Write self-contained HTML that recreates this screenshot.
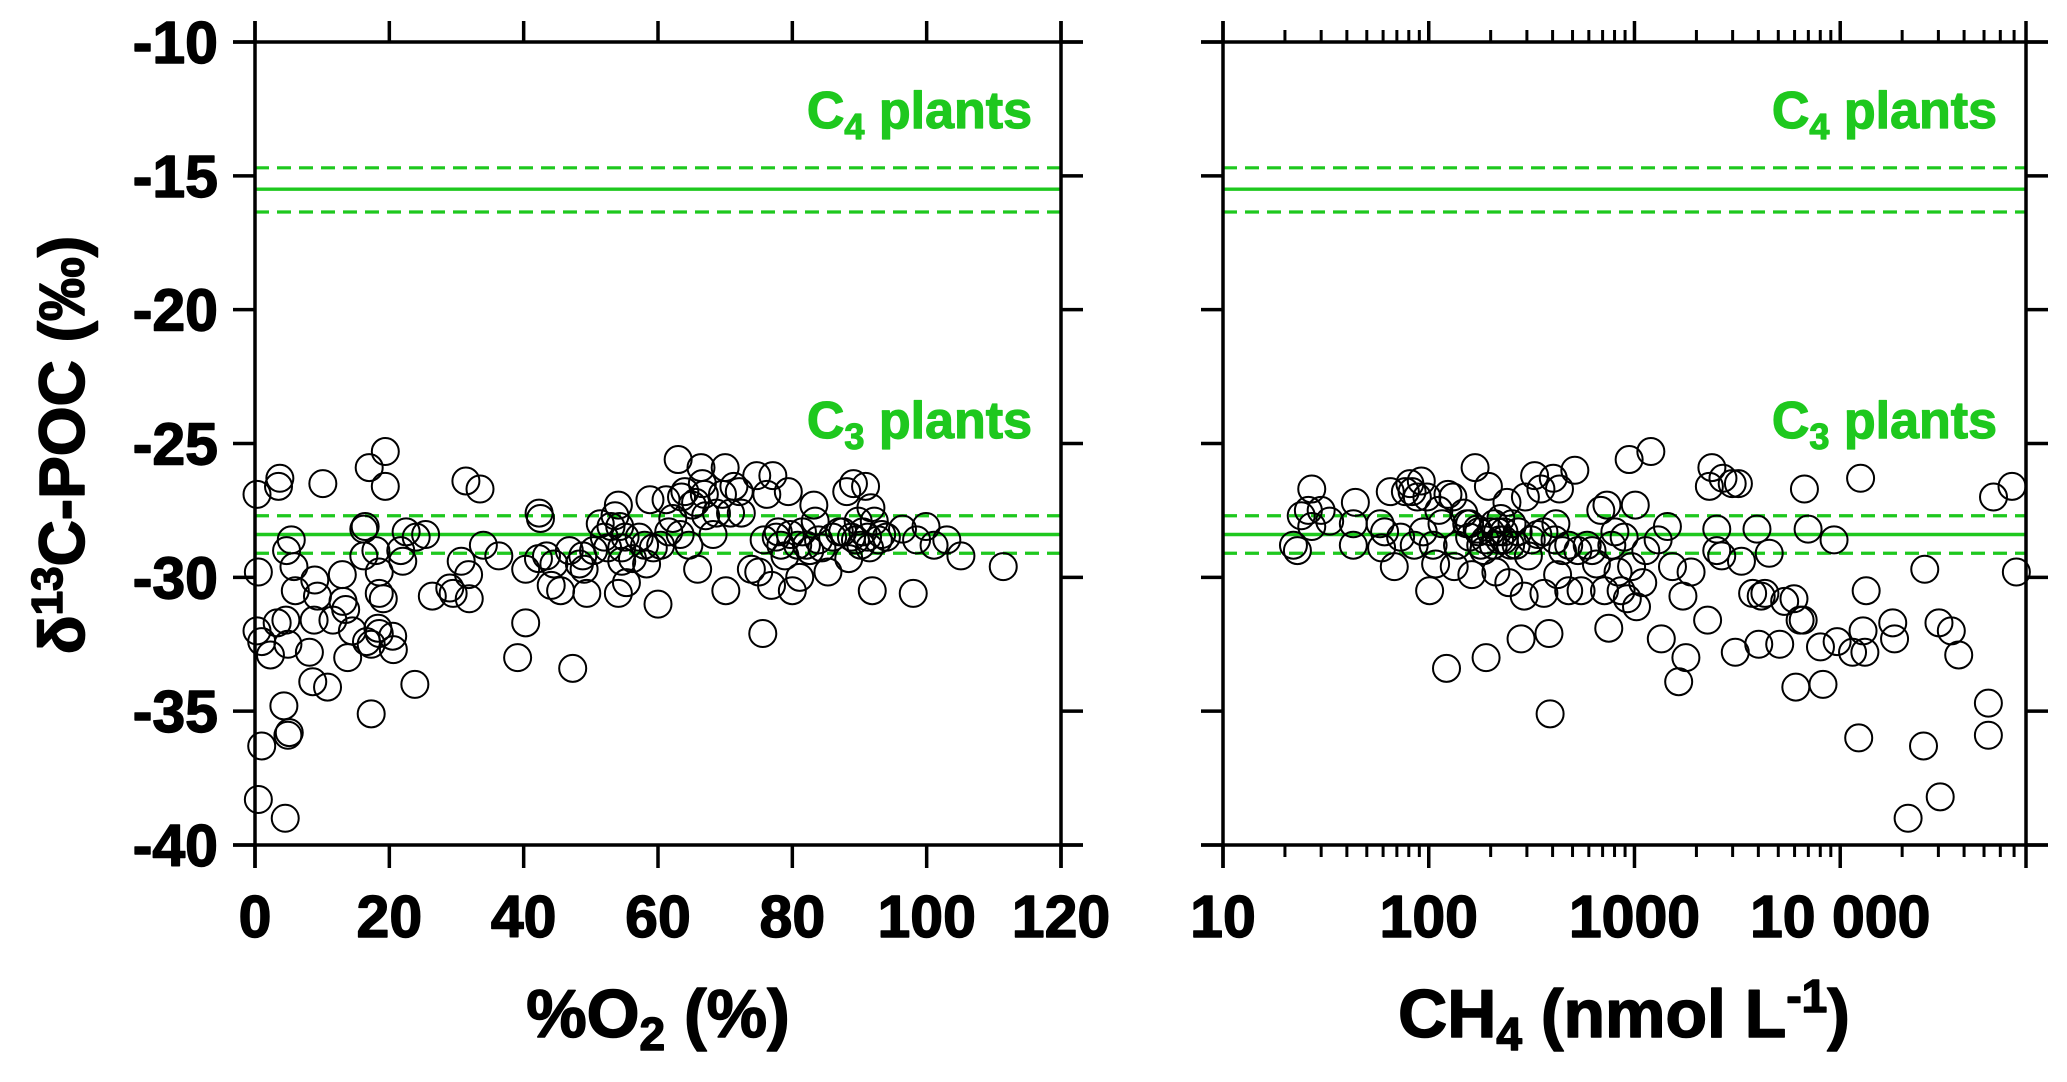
<!DOCTYPE html>
<html><head><meta charset="utf-8"><style>
html,body{margin:0;padding:0;background:#fff;}
svg{display:block;font-family:"Liberation Sans",Arial,sans-serif;font-weight:bold;}
text{stroke-linejoin:round;}
</style></head><body>
<svg id="chart" width="2067" height="1082" viewBox="0 0 2067 1082" xmlns="http://www.w3.org/2000/svg">
<g id="g"></g>
<text transform="translate(84,445) rotate(-90)" text-anchor="middle" font-size="64" stroke="#000" stroke-width="1.5">δ<tspan font-size="44" dy="-22">13</tspan><tspan dy="22">C-POC (‰)</tspan></text>
<text x="658" y="1037" text-anchor="middle" font-size="68" stroke="#000" stroke-width="1.5">%O<tspan font-size="46" dy="13">2</tspan><tspan dy="-13"> (%)</tspan></text>
<text x="1624" y="1037" text-anchor="middle" font-size="68" stroke="#000" stroke-width="1.5">CH<tspan font-size="46" dy="13">4</tspan><tspan dy="-13"> (nmol L</tspan><tspan font-size="46" dy="-25">-1</tspan><tspan dy="25">)</tspan></text>
</svg>
<script>
const o2X=[0.3,0.5,0.3,1,1,0.5,2.3,3.3,3.7,3.5,4.6,4.9,4.3,4.9,5.1,4.5,4.7,5.4,5.8,6,8.1,8.9,9.3,8.8,8.6,10.1,10.8,11.6,13,13.1,13.5,13.8,14.5,16.2,16.4,16.2,17,16.6,17.3,17.3,18,18.5,18.5,18.3,18.5,19.4,19.4,19.1,20.5,20.6,21.7,22,22.5,24,25.4,23.8,26.4,29,29.5,30.7,31.4,31.8,31.9,33.5,34,36.3,39.1,40.3,40.3,42.3,42.5,42.2,43.4,44.5,44.1,45.5,47.3,46.8,48.3,48.8,49,49.4,50.4,51.4,52,52.5,53,53.6,54.1,54.3,54.6,54.6,54.1,55.1,55.3,56.2,57.2,58,58.3,58.8,59.3,60,60.4,61.2,61.6,62.2,63,63.3,63.5,64,64.6,65.1,65.6,65.9,66.4,66.6,66.9,67.1,68.2,68.7,69.6,70,70.1,70.8,71.3,72.4,72.1,73.9,74.7,75,75.6,75.8,76.2,76.9,77.1,77.6,77.9,78.3,78.9,79.4,79.7,80,80.8,81.1,81.5,82.1,82.6,83.2,83.4,83.9,84.4,85.3,86,87,87.5,88.1,88.4,88.8,89.1,89.4,89.8,90.2,90.5,90.9,91.2,91.5,91.7,91.9,92.2,92.8,93.3,94,96.4,98,98.5,99.9,101.1,103,105.1,111.4];
const o2Y=[-26.9,-29.8,-32.0,-32.4,-36.3,-38.3,-32.9,-31.7,-26.3,-26.6,-31.6,-32.5,-34.8,-35.9,-35.8,-39.0,-29.0,-28.6,-29.6,-30.5,-32.8,-30.1,-30.7,-31.6,-33.9,-26.5,-34.1,-31.6,-29.9,-30.9,-31.2,-33.0,-32.0,-28.2,-28.1,-29.2,-25.9,-32.4,-32.5,-35.1,-29.0,-29.8,-30.6,-31.9,-32.1,-25.3,-26.6,-30.8,-32.2,-32.7,-29.0,-29.4,-28.3,-28.5,-28.4,-34.0,-30.7,-30.4,-30.6,-29.4,-26.4,-29.9,-30.8,-26.7,-28.8,-29.2,-33.0,-31.7,-29.7,-27.6,-27.8,-29.3,-29.2,-29.5,-30.3,-30.5,-33.4,-29.0,-29.5,-29.2,-29.7,-30.6,-29.0,-28.0,-28.5,-28.9,-28.1,-27.7,-27.3,-28.1,-28.9,-29.4,-30.6,-28.5,-30.2,-29.3,-28.5,-28.8,-29.5,-27.1,-28.9,-31.0,-28.8,-27.1,-28.3,-27.8,-25.6,-28.4,-27.0,-26.8,-28.8,-27.3,-27.2,-29.7,-25.9,-26.5,-26.9,-27.7,-28.4,-27.6,-26.9,-25.9,-30.5,-27.6,-26.6,-27.6,-26.8,-29.7,-26.2,-29.8,-32.1,-28.6,-26.9,-30.3,-26.2,-28.5,-28.3,-28.8,-29.2,-26.8,-28.4,-30.5,-28.8,-30.0,-28.3,-28.8,-29.0,-27.3,-27.9,-28.6,-28.9,-29.8,-28.5,-28.3,-28.3,-26.8,-29.3,-28.5,-26.5,-28.6,-27.9,-28.8,-28.3,-26.6,-28.5,-28.9,-27.4,-30.5,-27.9,-28.6,-28.4,-28.5,-28.2,-30.6,-28.6,-28.1,-28.8,-28.6,-29.2,-29.6];
const ch4X=[22,23,24,27,27,26,30,33,43,43,44,58,59,61,65,68,73,77,81,83,85,88,92,98,94,101,105,108,112,116,124,122,131,133,138,148,153,158,162,168,172,179,185,190,195,200,206,212,216,224,232,240,245,254,266,281,291,295,305,327,339,351,363,384,389,403,411,423,432,447,479,513,531,550,589,622,653,686,715,735,750,776,803,832,861,891,923,942,968,1009,1023,1097,1135,1201,1303,1350,1446,1530,1640,1720,1778,1884,2267,2312,2378,2512,2512,2655,2692,2985,3090,3311,3200,3752,3939,4018,4130,4305,4518,5081,5370,5960,6085,6383,6607,6700,6980,8017,8247,9333,9660,11480,12300,12560,12910,13180,13370,18000,18370,21380,25400,25760,30200,30620,34670,37670,52500,52500,55600,68400,71800,158,175,188,208,221,232,250,272,315,363,415,479];
const ch4Y=[-28.8,-29.0,-27.7,-26.7,-28.1,-27.5,-27.5,-27.9,-28.0,-28.8,-27.2,-28.0,-28.9,-28.3,-26.8,-29.6,-28.5,-26.8,-26.5,-26.8,-28.8,-27.0,-26.4,-27.0,-28.3,-30.5,-28.8,-29.5,-27.5,-28.0,-26.9,-33.4,-27.0,-29.6,-28.8,-27.6,-28.0,-28.5,-29.9,-25.9,-28.2,-28.8,-29.0,-33.0,-26.6,-28.3,-28.8,-29.8,-28.3,-27.8,-28.6,-27.2,-30.2,-28.0,-28.8,-32.3,-30.7,-27.0,-29.2,-26.2,-28.4,-26.7,-30.6,-32.1,-35.1,-26.3,-28.6,-29.9,-26.7,-29.0,-30.5,-26.0,-29.0,-30.5,-28.8,-29.0,-29.5,-27.5,-30.5,-27.3,-31.9,-28.8,-28.3,-29.8,-30.5,-28.5,-30.8,-25.6,-29.6,-27.3,-31.1,-30.2,-29.0,-25.3,-28.6,-32.3,-28.1,-29.6,-33.9,-30.7,-33.0,-29.8,-31.6,-26.6,-25.9,-29.0,-28.2,-29.2,-26.3,-26.5,-32.8,-29.4,-26.5,-30.6,-28.2,-32.5,-30.7,-30.6,-29.1,-32.5,-30.9,-30.8,-34.1,-31.6,-31.6,-26.7,-28.2,-32.6,-34.0,-28.6,-32.4,-32.8,-36.0,-26.3,-32.0,-32.8,-30.5,-31.7,-32.3,-39.0,-36.3,-29.7,-31.7,-38.2,-32.0,-32.9,-34.7,-35.9,-27.0,-26.6,-29.8,-28.0,-28.3,-28.6,-28.0,-28.6,-28.3,-28.8,-28.3,-28.6,-28.3,-28.0,-28.8];
const yTicks=[-10,-15,-20,-25,-30,-35,-40];
const o2Ticks=[0,20,40,60,80,100,120];
const ch4Ticks=[10,100,1000,10000];
const ch4TickLabels=["10","100","1000","10 000"];
const refLines=[-15.5,-28.4];
const refUpper=[-14.7,-27.7];
const refLower=[-16.35,-29.1];
const refLabels=["4","3"];

const NS="http://www.w3.org/2000/svg";
const G=document.getElementById('g');
const TOP=42,BOT=845;
const yS=v=>TOP+(-10-v)*(BOT-TOP)/30;
const LX0=255,LX1=1061;
const xO2=v=>LX0+v*(LX1-LX0)/120;
const RX0=1223,RX1=2026,LMAX=4.903;
const xCH4=v=>RX0+(Math.log10(v)-1)*(RX1-RX0)/(LMAX-1);
function el(t,a,p){const e=document.createElementNS(NS,t);for(const k in a)e.setAttribute(k,a[k]);(p||G).appendChild(e);return e;}
function line(x1,y1,x2,y2,w,c,dash){const a={x1,y1,x2,y2,stroke:c||'#000','stroke-width':w||3.5};if(dash)a['stroke-dasharray']=dash;return el('line',a);}

function panel(x0,x1,name,xs,xv,yv,labelRight,showY){
  for(let i=0;i<refLines.length;i++){
    const s=line(x0,yS(refLines[i]),x1,yS(refLines[i]),3.4,'#1ec81e');
    
    
    const u=line(x0,yS(refUpper[i]),x1,yS(refUpper[i]),3.2,'#1ec81e','14 8');
    
    
    const l=line(x0,yS(refLower[i]),x1,yS(refLower[i]),3.2,'#1ec81e','14 8');
    
    
    const t=el('text',{x:labelRight,y:[128,438][i],'text-anchor':'end','font-size':52,fill:'#1ec81e',stroke:'#1ec81e','stroke-width':1.2});
    
    
    t.innerHTML='C<tspan font-size="36" dy="11">'+refLabels[i]+'</tspan><tspan dy="-11"> plants</tspan>';
  }
  for(let i=0;i<xv.length;i++){
    const c=el('circle',{cx:xs(xv[i]),cy:yS(yv[i]),r:13.5,fill:'none',stroke:'#000','stroke-width':2});
    
    
  }
  const f=[line(x0-22,TOP,x1+22,TOP),line(x0-22,BOT,x1+22,BOT),line(x0,21,x0,868),line(x1,21,x1,868)];
  f.forEach(e=>{});
  for(const v of yTicks){
    const y=yS(v);
    const a=line(x0-22,y,x0,y);
    const b=line(x1,y,x1+22,y);
    if(showY){
      const t=el('text',{x:218,y:y+21,'text-anchor':'end','font-size':59,stroke:'#000','stroke-width':1.4});
      t.textContent=v;
      
      
    }
  }
}
panel(LX0,LX1,'o2',xO2,o2X,o2Y,1032,true);
panel(RX0,RX1,'ch4',xCH4,ch4X,ch4Y,1997,false);

for(const v of o2Ticks){
  const x=xO2(v);
  const a=line(x,BOT,x,868);
  const b=line(x,21,x,TOP);
  const t=el('text',{x:x,y:937,'text-anchor':'middle','font-size':59,stroke:'#000','stroke-width':1.4});
  t.textContent=v;
  
  
}
for(let i=0;i<ch4Ticks.length;i++){
  const x=xCH4(ch4Ticks[i]);
  const a=line(x,BOT,x,868);
  const b=line(x,21,x,TOP);
  const t=el('text',{x:x,y:937,'text-anchor':'middle','font-size':59,stroke:'#000','stroke-width':1.4});
  t.textContent=ch4TickLabels[i];
  
  
  for(let m=2;m<=9;m++){
    const v=ch4Ticks[i]*m;
    if(Math.log10(v)>LMAX)break;
    const xm=xCH4(v);
    const c=line(xm,BOT,xm,857,3);
    const d=line(xm,30,xm,TOP,3);
  }
}
</script>
</body></html>
